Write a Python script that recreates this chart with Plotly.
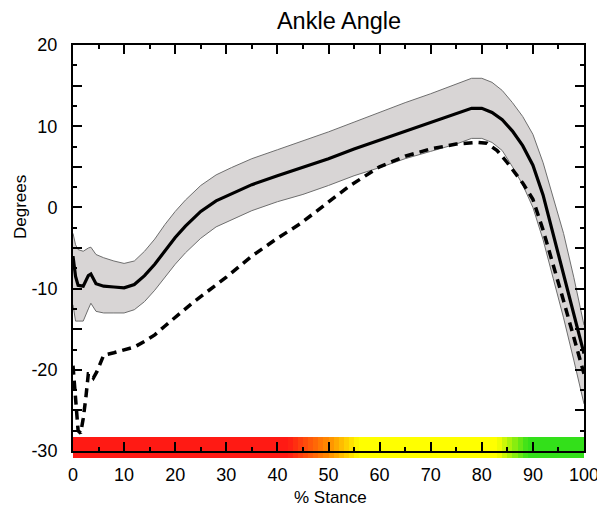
import plotly.graph_objects as go

# ---- data ----
band_x = [0, 0.5, 1, 2, 3, 3.5, 4.5, 6, 8, 10, 12, 14, 16, 18, 20, 22, 25, 28, 31, 35,
          40, 45, 50, 55, 60, 65, 70, 75, 78, 80, 82, 84, 86, 88, 90, 92, 94, 96, 98, 100]
mean_y = [-6, -8.5, -9.6, -9.7, -8.4, -8.2, -9.4, -9.7, -9.8, -9.9, -9.5, -8.4, -7.0, -5.3,
          -3.7, -2.3, -0.5, 0.8, 1.7, 2.8, 3.9, 4.9, 6.0, 7.2, 8.3, 9.4, 10.4, 11.5, 12.2,
          12.2, 11.7, 10.8, 9.4, 7.6, 5.2, 1.5, -3.3, -8.3, -13.2, -18]
upper_y = [-3.2, -4.6, -5.2, -5.4, -5.0, -4.9, -5.8, -6.2, -6.6, -6.9, -6.6, -5.4, -3.9,
           -2.1, -0.5, 0.9, 2.7, 4.0, 4.9, 6.0, 7.1, 8.2, 9.3, 10.5, 11.7, 12.9, 14.0, 15.2,
           15.9, 15.9, 15.4, 14.4, 12.9, 11.2, 9.0, 5.5, 1.0, -3.2, -8.6, -14.5]
lower_y = [-12, -14, -14, -14, -12.5, -11.8, -12.8, -13, -13, -13, -12.6, -11.6, -10.2,
           -8.6, -7.0, -5.6, -3.8, -2.4, -1.5, -0.4, 0.7, 1.6, 2.7, 3.9, 4.9, 6.0, 6.9, 7.8,
           8.5, 8.5, 8.0, 7.0, 5.0, 2.8, 0.0, -4.0, -8.8, -13.6, -18.8, -24.2]

dash_x = [0, 0.5, 1, 1.5, 2, 2.5, 3, 3.5, 4, 4.7, 5.5, 6, 8, 10, 12, 14, 16, 18, 20, 23.5,
          26, 30, 35, 40, 44.5, 50, 54, 60, 65, 70, 75, 79, 81, 83, 85, 88, 90, 92, 94, 96,
          98, 100]
dash_y = [-19.5, -24, -27.5, -27.8, -26, -23.5, -20.5, -20.5, -21, -20.2, -18.8, -18.2,
          -17.9, -17.6, -17.2, -16.5, -15.7, -14.6, -13.5, -11.7, -10.5, -8.6, -6, -3.8, -2,
          0.6, 2.6, 5.0, 6.3, 7.2, 7.8, 8.0, 7.9, 7.0, 5.5, 3.0, 1.0, -2.8, -7.0, -11.5,
          -16.0, -20.5]

x_ticks = [0, 10, 20, 30, 40, 50, 60, 70, 80, 90, 100]
y_ticks = [-30, -25, -20, -15, -10, -5, 0, 5, 10, 15, 20]
y_ticktext = ['-30', '', '-20', '', '-10', '', '0', '', '10', '', '20']

# colour band along % stance
band_edges = list(range(0, 101))
band_mid = [e + 0.5 for e in range(0, 100)]
band_stops = [0.0, 0.42, 0.5, 0.56, 0.83, 0.89, 1.0]
band_colors = ['#ff1a14', '#ff1a14', '#ff8c00', '#ffff00', '#ffff00', '#33e01a', '#33e01a']

FONT = 'Liberation Sans, Arial, sans-serif'

fig = go.Figure()

fig.add_trace(go.Heatmap(
    x=band_edges, y=[0, 1], z=[band_mid], zmin=0, zmax=100,
    colorscale=[[s, c] for s, c in zip(band_stops, band_colors)],
    showscale=False, hoverinfo='skip', xaxis='x', yaxis='y'))

fig.add_trace(go.Scatter(x=band_x, y=upper_y, mode='lines',
                         line=dict(color='#6e6e6e', width=1), xaxis='x2', yaxis='y2',
                         showlegend=False))
fig.add_trace(go.Scatter(x=band_x, y=lower_y, mode='lines', fill='tonexty',
                         fillcolor='rgb(216,213,213)',
                         line=dict(color='#6e6e6e', width=1), xaxis='x2', yaxis='y2',
                         showlegend=False))
fig.add_trace(go.Scatter(x=dash_x, y=dash_y, mode='lines',
                         line=dict(color='black', width=3.5, dash='9px,6px'),
                         xaxis='x2', yaxis='y2', showlegend=False))
fig.add_trace(go.Scatter(x=band_x, y=mean_y, mode='lines',
                         line=dict(color='black', width=3.2),
                         xaxis='x2', yaxis='y2', showlegend=False))

# page body has an 8px margin; lay the figure out in screen pixels minus that offset
OFF = 8
W, H = 605 - OFF, 511 - OFF
L, R, T, B = 73 - OFF, 21, 45 - OFF, 53
ph = H - T - B
pw = W - L - R
main_bottom = (458 - 451) / ph
band_top = (458 - 437) / ph

fig.update_layout(
    width=W, height=H,
    margin=dict(l=L, r=R, t=T, b=B, autoexpand=False),
    paper_bgcolor='white', plot_bgcolor='rgba(0,0,0,0)',
    font=dict(family=FONT, color='black', size=18),
    title=dict(text='Ankle Angle', x=(339 - OFF) / W, xanchor='center',
               y=1 - (20.5 - OFF) / H, yanchor='middle', xref='container', yref='container',
               font=dict(size=23.5, family=FONT, color='black')),
    showlegend=False,
    xaxis=dict(domain=[0, 1], range=[0, 100], visible=False, fixedrange=True),
    yaxis=dict(domain=[0, band_top], range=[0, 1], visible=False, fixedrange=True),
    xaxis2=dict(domain=[0, 1], anchor='y2', range=[0, 100], tickvals=x_ticks,
                showline=True, linecolor='black', linewidth=2, mirror='allticks',
                ticks='inside', ticklen=9, tickwidth=2, tickcolor='black',
                minor=dict(ticks='inside', ticklen=4, tickwidth=2, tickcolor='black',
                           dtick=5, tick0=0),
                showgrid=False, zeroline=False, ticklabelstandoff=6,
                tickfont=dict(size=18, family=FONT), automargin=False),
    yaxis2=dict(domain=[main_bottom, 1], anchor='x2', range=[-30, 20], tickvals=y_ticks,
                ticktext=y_ticktext,
                showline=True, linecolor='black', linewidth=2, mirror='allticks',
                ticks='inside', ticklen=9, tickwidth=2, tickcolor='black',
                minor=dict(ticks='inside', ticklen=4, tickwidth=2, tickcolor='black',
                           dtick=2.5, tick0=0),
                showgrid=False, zeroline=False, ticklabelstandoff=10,
                tickfont=dict(size=18, family=FONT), automargin=False),
    annotations=[
        dict(text='Degrees', xref='paper', yref='paper', x=(20 - 73) / pw,
             y=(458 - 207) / ph, showarrow=False, textangle=-90,
             xanchor='center', yanchor='middle', font=dict(size=17, family=FONT)),
        dict(text='% Stance', xref='paper', yref='paper', x=(330 - 73) / pw,
             y=(458 - 497) / ph, showarrow=False, xanchor='center', yanchor='middle',
             font=dict(size=17, family=FONT)),
    ],
)

fig.write_html('out.html')
